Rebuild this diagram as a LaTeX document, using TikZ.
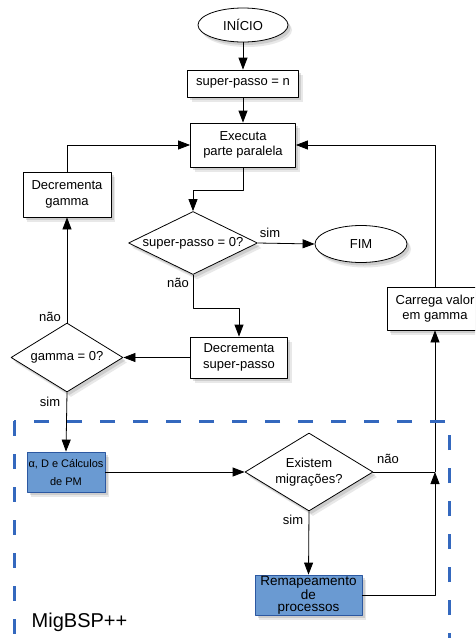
\documentclass[tikz,border=0pt]{standalone}
\usepackage{fontspec}
\setmainfont{Liberation Sans}
\usetikzlibrary{shapes.geometric,shadows,arrows.meta}
\definecolor{azulmig}{RGB}{52,104,190}
\definecolor{azulcaixa}{RGB}{106,154,210}
\begin{document}
\begin{tikzpicture}[x=1pt,y=-1pt,line join=round,>={Triangle[length=12pt,width=9pt]},line width=0.8pt]
	\tikzset{every node/.style={font=\fontsize{13}{15.5}\selectfont},
		sombra/.style={drop shadow={shadow xshift=4pt,shadow yshift=-5pt,opacity=0.18},
			drop shadow={shadow xshift=2.5pt,shadow yshift=-3pt,opacity=0.25}},
		caixa/.style={draw,fill=white,align=center,inner sep=0pt,sombra},
		terminal/.style={ellipse,draw,fill=white,inner sep=0pt,sombra},
		decisao/.style={diamond,draw,fill=white,aspect=2,inner sep=0pt,align=center,sombra},
		caixamig/.style={caixa,fill=azulcaixa,draw=azulmig!85!black}}
	\clip (0,0) rectangle (475,638);
	\fill[white] (0,0) rectangle (475,638);
	\begin{scope}
		\node[terminal,minimum width=90,minimum height=34] (inicio) at (243,25) {INÍCIO};
		\node[caixa,minimum width=111,minimum height=27] (passo) at (243,83.5) {super-passo = n};
		\node[caixa,minimum width=105,minimum height=44] (exec) at (243,145) {Executa\\parte paralela};
		\node[caixa,minimum width=88,minimum height=45] (decg) at (67,194.5) {Decrementa\\gamma};
		\node[decisao,minimum width=129,minimum height=63] (teste1) at (193,243) {super-passo = 0?};
		\node[terminal,minimum width=92,minimum height=37] (fim) at (361,244) {FIM};
		\node[caixa,minimum width=97,minimum height=41] (decsp) at (239,357.5) {Decrementa\\super-passo};
		\node[decisao,minimum width=112,minimum height=69] (teste2) at (67,357.5) {gamma = 0?};
		\node[caixa,minimum width=96,minimum height=43] (carrega) at (435,308.5) {Carrega valor\\em gamma};
		\node[caixamig,minimum width=78,minimum height=40,font=\fontsize{11}{18}\selectfont] (calc) at (66,472) {α, D e Cálculos\\de PM};
		\node[decisao,minimum width=128,minimum height=78] (existem) at (309,472) {Existem\\migrações?};
		\node[caixamig,minimum width=107,minimum height=40,font=\fontsize{13.5}{12}\selectfont] (remap) at (308.5,595) {Remapeamento\\de\\processos};
		\coordinate (juncao) at (435,472);
	\end{scope}
	\node (rsim1) at (270,233) {sim};
	\node (rnao1) at (178,283) {não};
	\node (rnao2) at (50,317) {não};
	\node (rsim2) at (50,402) {sim};
	\node (rnao3) at (388,459) {não};
	\node (rsim3) at (293,520) {sim};
	\draw[->] (inicio) -- (passo);
	\draw[->] (passo) -- (exec);
	\draw[->] (exec.south) -- ++(0,23) -| (teste1.north);
	\draw[->] (teste1.east) -- (fim.west);
	\draw[->] (teste1.south) -- ++(0,33) -| (decsp.north);
	\draw[->] (decsp.west) -- (teste2.east);
	\draw[->] (teste2.north) -- (decg.south);
	\draw[->] (decg.north) |- (exec.west);
	\draw[->] (teste2.south) -- (calc.north);
	\draw[->] (calc.east) -- (existem.west);
	\draw[->] (existem.south) -- (remap.north);
	\draw (existem.east) -- (juncao);
	\draw[->] (remap.east) -| (juncao);
	\draw[->] (juncao) -- (carrega.south);
	\draw[->] (carrega.north) |- (exec.east);
	\draw[azulmig,line width=3pt,dash pattern=on 15pt off 18pt] (14,421) rectangle (449,680);
	\node[anchor=west,font=\fontsize{20}{24}\selectfont] (migbsp) at (28,622) {MigBSP++};
\end{tikzpicture}
\end{document}
